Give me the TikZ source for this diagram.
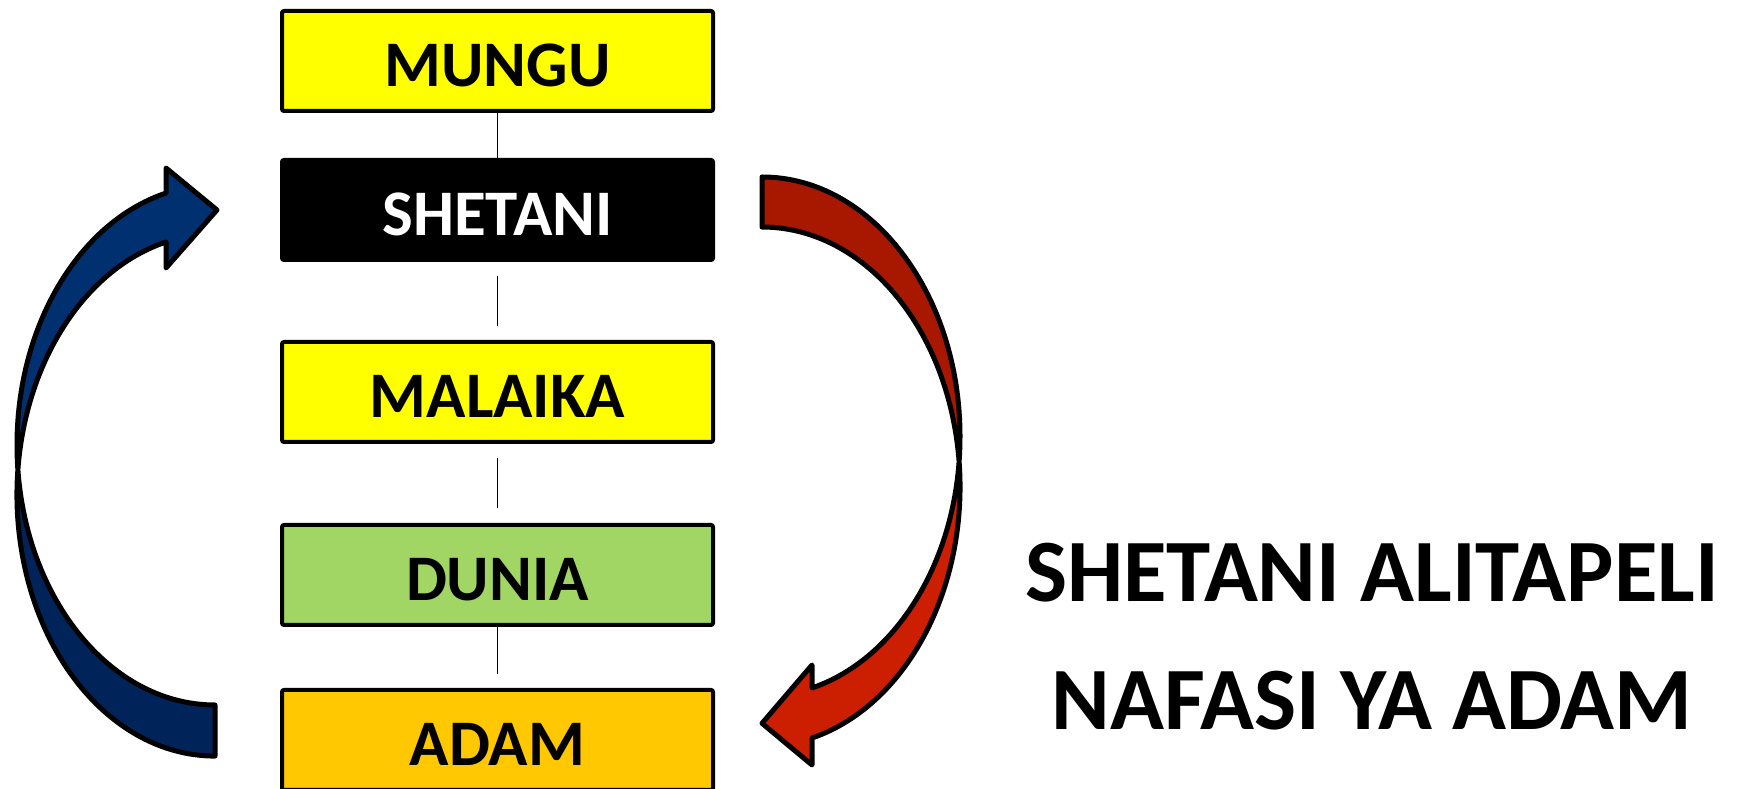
\documentclass[tikz,border=0pt]{standalone}
\usepackage{fontspec}
\setmainfont{Carlito}
\usetikzlibrary{positioning}

\definecolor{yellowbox}{HTML}{FFFF00}
\definecolor{greenbox}{HTML}{A2D664}
\definecolor{goldbox}{HTML}{FFC800}
\definecolor{bluefront}{HTML}{003070}
\definecolor{blueback}{HTML}{00245A}
\definecolor{redfront}{HTML}{CC1E00}
\definecolor{redback}{HTML}{A81800}

\begin{document}
\begin{tikzpicture}[x=1pt, y=1pt,
    level/.style={draw, line width=4pt, rounded corners=2pt, minimum width=431pt, minimum height=100pt,
      text height=51pt, text depth=0pt, font=\fontsize{65}{78}\selectfont\bfseries},
    link/.style={line width=1.6pt},
    bigarrow/.style={draw, line width=5pt, line join=round},
    claim/.style={anchor=base, font=\fontsize{89}{107}\selectfont\bfseries}]
      \useasboundingbox (0,0) rectangle (1740,789);

      \node[level, fill=yellowbox] (mungu) at (497.5,728) {MUNGU};
      \node[level, fill=black, text=white, below=45pt of mungu] (shetani) {SHETANI};
      \node[level, fill=yellowbox, below=78pt of shetani] (malaika) {MALAIKA};
      \node[level, fill=greenbox, below=79pt of malaika] (dunia) {DUNIA};
      \node[level, fill=goldbox, below=61pt of dunia] (adam) {ADAM};

      \draw[link] (mungu) -- (shetani);
      \draw[link, shorten <=14pt, shorten >=14pt] (shetani) -- (malaika);
      \draw[link, shorten <=14pt, shorten >=15pt] (malaika) -- (dunia);
      \draw[link, shorten >=14pt] (dunia) -- (adam);

      \path[bigarrow, fill=bluefront, path picture={\fill[blueback] (0,0) rectangle (300,319);}]
        (215,84) arc[start angle=270, end angle=104.33, x radius=198, y radius=260]
        -- (166,621) -- (217,579) -- (166,521) -- (166,547)
        arc[start angle=104.33, end angle=270, x radius=198, y radius=261.1] -- cycle;

      \path[bigarrow, fill=redfront, path picture={\fill[redback] (700,327) rectangle (1000,789);}]
        (762,612) arc[start angle=90, end angle=-75.37, x radius=198, y radius=259.7]
        -- (812,124) -- (762,65.7) -- (812,24) -- (812,51)
        arc[start angle=-75.37, end angle=90, x radius=198, y radius=259.7] -- cycle;

      \node[claim] (claim1) at (1372,187) {SHETANI ALITAPELI};
      \node[claim] (claim2) at (1372,59) {NAFASI YA ADAM};
\end{tikzpicture}
\end{document}
